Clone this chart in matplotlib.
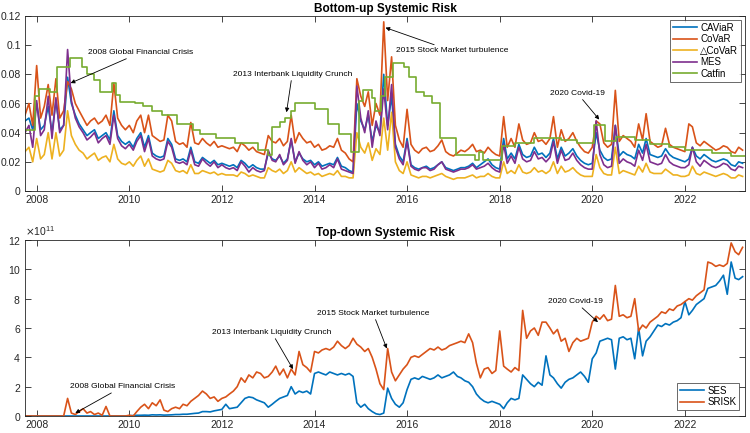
import numpy as np
import pandas as pd
import matplotlib
matplotlib.use("Agg")
import matplotlib.pyplot as plt
import matplotlib.dates as mdates
from matplotlib.ticker import FuncFormatter, ScalarFormatter, MultipleLocator

plt.rcParams['font.family'] = ['Liberation Sans', 'DejaVu Sans']

# ---------------- data (monthly, Oct 2007 - Apr 2023) ----------------
months = pd.date_range('2007-10-01', '2023-04-01', freq='MS')

caviar = [
    0.048, 0.050, 0.042,
    0.060, 0.042, 0.045, 0.058, 0.040, 0.062, 0.042, 0.045, 0.078, 0.060, 0.052, 0.046,
    0.042, 0.038, 0.040, 0.042, 0.036, 0.038, 0.040, 0.035, 0.055, 0.038, 0.034, 0.032,
    0.034, 0.030, 0.036, 0.040, 0.030, 0.038, 0.026, 0.024, 0.023, 0.024, 0.036, 0.032,
    0.022, 0.021, 0.022, 0.020, 0.030, 0.020, 0.019, 0.023, 0.021, 0.019, 0.021, 0.018,
    0.019, 0.018, 0.017, 0.018, 0.016, 0.021, 0.019, 0.016, 0.018, 0.016, 0.015, 0.015,
    0.026, 0.022, 0.021, 0.024, 0.019, 0.022, 0.035, 0.020, 0.026, 0.022, 0.020, 0.021,
    0.018, 0.020, 0.017, 0.018, 0.019, 0.018, 0.023, 0.017, 0.016, 0.014, 0.013, 0.060,
    0.048, 0.042, 0.052, 0.034, 0.045, 0.040, 0.080, 0.045, 0.065, 0.032, 0.024, 0.020,
    0.036, 0.018, 0.016, 0.015, 0.016, 0.017, 0.015, 0.016, 0.018, 0.020, 0.016, 0.015,
    0.014, 0.015, 0.016, 0.016, 0.017, 0.019, 0.016, 0.018, 0.020, 0.022, 0.018, 0.016,
    0.015, 0.036, 0.022, 0.026, 0.022, 0.032, 0.025, 0.023, 0.024, 0.030, 0.025, 0.026,
    0.023, 0.026, 0.036, 0.022, 0.030, 0.024, 0.026, 0.029, 0.024, 0.021, 0.019, 0.018,
    0.019, 0.040, 0.028, 0.023, 0.021, 0.022, 0.045, 0.024, 0.027, 0.025, 0.024, 0.022,
    0.032, 0.026, 0.036, 0.025, 0.024, 0.023, 0.024, 0.029, 0.025, 0.023, 0.022, 0.021,
    0.020, 0.022, 0.030, 0.024, 0.022, 0.025, 0.023, 0.021, 0.020, 0.021, 0.022, 0.021,
    0.018, 0.017, 0.020, 0.019,
]

covar = [
    0.052, 0.060, 0.045,
    0.086, 0.050, 0.058, 0.073, 0.052, 0.077, 0.050, 0.055, 0.075, 0.070, 0.060, 0.055,
    0.050, 0.045, 0.048, 0.050, 0.046, 0.048, 0.052, 0.045, 0.074, 0.050, 0.045, 0.042,
    0.045, 0.040, 0.048, 0.052, 0.040, 0.052, 0.038, 0.036, 0.034, 0.035, 0.052, 0.048,
    0.034, 0.032, 0.033, 0.030, 0.047, 0.033, 0.032, 0.036, 0.033, 0.031, 0.034, 0.030,
    0.031, 0.030, 0.029, 0.030, 0.027, 0.033, 0.031, 0.028, 0.030, 0.027, 0.026, 0.025,
    0.038, 0.034, 0.033, 0.036, 0.031, 0.034, 0.052, 0.033, 0.040, 0.036, 0.033, 0.034,
    0.030, 0.032, 0.028, 0.029, 0.031, 0.030, 0.036, 0.028, 0.026, 0.022, 0.020, 0.077,
    0.065, 0.058, 0.068, 0.045, 0.060, 0.052, 0.116, 0.062, 0.092, 0.045, 0.035, 0.030,
    0.056, 0.032, 0.028, 0.026, 0.029, 0.030, 0.027, 0.028, 0.031, 0.035, 0.027, 0.025,
    0.024, 0.026, 0.028, 0.027, 0.029, 0.032, 0.027, 0.028, 0.026, 0.030, 0.027, 0.025,
    0.024, 0.051, 0.030, 0.036, 0.030, 0.046, 0.035, 0.032, 0.033, 0.040, 0.034, 0.035,
    0.032, 0.036, 0.051, 0.030, 0.042, 0.034, 0.036, 0.040, 0.034, 0.030, 0.027, 0.026,
    0.030, 0.048, 0.046, 0.033, 0.030, 0.032, 0.069, 0.034, 0.038, 0.036, 0.034, 0.030,
    0.046, 0.035, 0.053, 0.034, 0.032, 0.030, 0.031, 0.043, 0.032, 0.030, 0.029, 0.028,
    0.027, 0.046, 0.044, 0.033, 0.031, 0.034, 0.032, 0.030, 0.028, 0.029, 0.031, 0.030,
    0.027, 0.026, 0.030, 0.028,
]

dcovar = [
    0.027, 0.030, 0.020,
    0.036, 0.022, 0.025, 0.040, 0.022, 0.040, 0.024, 0.028, 0.055, 0.038, 0.032, 0.028,
    0.026, 0.022, 0.024, 0.026, 0.021, 0.023, 0.024, 0.020, 0.032, 0.022, 0.019, 0.018,
    0.020, 0.017, 0.021, 0.024, 0.017, 0.022, 0.015, 0.014, 0.013, 0.014, 0.021, 0.019,
    0.014, 0.013, 0.014, 0.012, 0.018, 0.012, 0.012, 0.014, 0.013, 0.012, 0.013, 0.011,
    0.012, 0.011, 0.011, 0.011, 0.010, 0.013, 0.012, 0.010, 0.011, 0.010, 0.009, 0.009,
    0.016, 0.014, 0.013, 0.015, 0.012, 0.014, 0.020, 0.013, 0.016, 0.014, 0.012, 0.013,
    0.011, 0.012, 0.010, 0.011, 0.012, 0.011, 0.014, 0.010, 0.010, 0.009, 0.009, 0.040,
    0.030, 0.026, 0.033, 0.021, 0.029, 0.025, 0.050, 0.028, 0.054, 0.020, 0.014, 0.012,
    0.020, 0.011, 0.010, 0.009, 0.010, 0.010, 0.009, 0.010, 0.011, 0.012, 0.010, 0.009,
    0.008, 0.009, 0.009, 0.009, 0.010, 0.011, 0.009, 0.010, 0.010, 0.012, 0.010, 0.009,
    0.009, 0.020, 0.012, 0.014, 0.012, 0.018, 0.013, 0.012, 0.013, 0.016, 0.013, 0.014,
    0.012, 0.014, 0.020, 0.012, 0.017, 0.013, 0.014, 0.016, 0.013, 0.011, 0.010, 0.010,
    0.010, 0.025, 0.016, 0.012, 0.011, 0.011, 0.030, 0.012, 0.014, 0.013, 0.012, 0.011,
    0.017, 0.013, 0.019, 0.013, 0.012, 0.012, 0.012, 0.015, 0.013, 0.011, 0.011, 0.010,
    0.010, 0.011, 0.017, 0.012, 0.011, 0.013, 0.012, 0.011, 0.010, 0.011, 0.012, 0.011,
    0.009, 0.009, 0.011, 0.010,
]

mes = [
    0.040, 0.045, 0.030,
    0.062, 0.038, 0.042, 0.065, 0.036, 0.064, 0.040, 0.045, 0.097, 0.062, 0.050, 0.044,
    0.040, 0.035, 0.037, 0.040, 0.033, 0.036, 0.038, 0.032, 0.052, 0.036, 0.031, 0.029,
    0.032, 0.028, 0.034, 0.038, 0.027, 0.036, 0.024, 0.022, 0.021, 0.022, 0.034, 0.030,
    0.020, 0.019, 0.020, 0.018, 0.028, 0.018, 0.017, 0.022, 0.019, 0.017, 0.020, 0.016,
    0.018, 0.016, 0.015, 0.016, 0.014, 0.020, 0.017, 0.013, 0.016, 0.014, 0.013, 0.014,
    0.028, 0.021, 0.020, 0.025, 0.018, 0.021, 0.036, 0.019, 0.027, 0.021, 0.018, 0.020,
    0.016, 0.019, 0.015, 0.016, 0.018, 0.016, 0.022, 0.015, 0.014, 0.013, 0.012, 0.072,
    0.050, 0.040, 0.055, 0.030, 0.048, 0.038, 0.070, 0.042, 0.073, 0.030, 0.022, 0.018,
    0.034, 0.017, 0.015, 0.014, 0.016, 0.016, 0.014, 0.015, 0.018, 0.020, 0.015, 0.014,
    0.013, 0.014, 0.015, 0.015, 0.016, 0.018, 0.015, 0.016, 0.017, 0.019, 0.016, 0.014,
    0.013, 0.032, 0.019, 0.024, 0.019, 0.030, 0.022, 0.020, 0.021, 0.027, 0.022, 0.023,
    0.020, 0.023, 0.034, 0.019, 0.028, 0.021, 0.022, 0.026, 0.021, 0.018, 0.016, 0.015,
    0.015, 0.048, 0.025, 0.018, 0.016, 0.017, 0.045, 0.019, 0.022, 0.020, 0.019, 0.017,
    0.028, 0.021, 0.032, 0.020, 0.019, 0.018, 0.019, 0.025, 0.020, 0.018, 0.017, 0.016,
    0.016, 0.018, 0.030, 0.020, 0.017, 0.021, 0.019, 0.017, 0.016, 0.017, 0.019, 0.018,
    0.015, 0.014, 0.017, 0.016,
]

catfin_dates = [
    '2007-10-01', '2007-12-20', '2008-01-20', '2008-03-01', '2008-04-15', '2008-06-10',
    '2008-09-20', '2008-12-20', '2009-02-01', '2009-04-01', '2009-05-15', '2009-08-20',
    '2009-09-20', '2009-10-20', '2010-02-15', '2010-04-15', '2010-07-01', '2010-09-15',
    '2011-01-15', '2011-05-15', '2011-07-15', '2011-11-15', '2012-04-15', '2012-10-15',
    '2013-01-01', '2013-02-01', '2013-04-01', '2013-05-15', '2013-07-01', '2013-08-01',
    '2014-01-01', '2014-04-15', '2014-07-15', '2014-10-15', '2014-12-20', '2015-01-20',
    '2015-04-01', '2015-04-20', '2015-06-10', '2015-07-10', '2015-09-10', '2015-12-10',
    '2016-01-20', '2016-03-10', '2016-05-10', '2016-07-15', '2016-09-15', '2017-01-20',
    '2017-06-20', '2017-07-20', '2017-08-20', '2018-01-20', '2018-05-01', '2018-10-01',
    '2019-05-01', '2019-09-01', '2020-01-15', '2020-04-10', '2020-07-10', '2020-12-01',
    '2021-04-01', '2021-09-01', '2022-01-01', '2022-08-01', '2023-01-01', '2023-04-20',
]
catfin_vals = [
    0.042, 0.065, 0.070, 0.070, 0.068, 0.085,
    0.091, 0.085, 0.080, 0.076, 0.068, 0.074,
    0.066, 0.061, 0.060, 0.058, 0.055, 0.052,
    0.046, 0.042, 0.039, 0.036, 0.033, 0.028,
    0.025, 0.044, 0.047, 0.050, 0.055, 0.060,
    0.056, 0.046, 0.039, 0.027, 0.062, 0.069,
    0.064, 0.055, 0.065, 0.078, 0.088, 0.085,
    0.078, 0.068, 0.065, 0.060, 0.036, 0.025,
    0.021, 0.027, 0.021, 0.031, 0.033, 0.036,
    0.035, 0.033, 0.045, 0.034, 0.037, 0.035,
    0.032, 0.030, 0.028, 0.026, 0.024, 0.024,
]

# bottom panel, units of 1e11
ses = [
    0, 0, 0,
    0, 0, 0, 0, 0, 0, 0, 0, 0, 0, 0, 0,
    0, 0, 0, 0, 0, 0, 0, 0, 0, 0, 0, 0,
    0.02, 0.03, 0.05, 0.05, 0.06, 0.05, 0.08, 0.07, 0.08, 0.06, 0.07, 0.08,
    0.10, 0.10, 0.12, 0.12, 0.15, 0.18, 0.20, 0.30, 0.30, 0.28, 0.35, 0.40,
    0.45, 0.80, 0.50, 0.55, 0.60, 0.90, 1.20, 1.30, 1.25, 1.10, 1.00, 0.90,
    0.60, 0.80, 1.00, 1.20, 1.30, 1.40, 2.00, 1.50, 1.70, 1.60, 1.70, 1.50,
    2.90, 3.00, 2.90, 2.80, 3.00, 2.90, 2.80, 2.90, 2.80, 2.90, 2.70, 0.90,
    0.60, 0.80, 0.50, 0.30, 0.15, 0.10, 0.20, 1.90, 1.20, 0.80, 0.60, 0.90,
    1.80, 2.50, 2.60, 2.50, 2.70, 2.60, 2.50, 2.60, 2.80, 2.60, 2.70, 2.80,
    3.00, 2.70, 2.60, 2.40, 2.30, 2.00, 1.50, 1.20, 1.00, 0.90, 1.00, 0.90,
    0.80, 0.50, 0.90, 1.20, 1.10, 1.20, 2.80, 2.50, 2.20, 2.00, 2.30, 2.10,
    4.10, 2.80, 2.60, 2.20, 1.90, 2.30, 2.50, 2.60, 2.80, 3.00, 2.70, 2.30,
    3.90, 4.30, 5.10, 5.20, 5.30, 5.20, 3.20, 5.30, 5.40, 5.20, 5.30, 3.90,
    6.00, 4.10, 5.10, 5.40, 5.80, 6.20, 6.10, 6.30, 6.20, 6.40, 6.50, 6.70,
    7.80, 6.90, 7.20, 7.60, 7.80, 8.00, 8.70, 8.80, 8.90, 9.20, 9.60, 8.30,
    10.50, 9.40, 9.30, 9.50,
]

srisk = [
    0, 0, 0,
    0, 0, 0, 0, 0, 0, 0, 0, 1.20, 0.20, 0.10, 0.30,
    0.50, 0.20, 0.30, 0.10, 0.20, 0.05, 0.65, 0, 0, 0, 0, 0,
    0.05, 0, 0.30, 0.60, 0.80, 0.50, 0.90, 0.70, 1.10, 0.40, 0.30, 0.50,
    0.60, 0.50, 0.80, 0.70, 1.00, 1.20, 1.40, 1.70, 1.50, 1.20, 1.30, 1.00,
    1.20, 1.30, 1.50, 1.70, 2.00, 2.60, 2.30, 2.80, 2.60, 3.00, 2.90, 2.60,
    2.70, 3.00, 3.40, 2.80, 3.20, 2.60, 3.20, 2.80, 4.40, 3.50, 3.30, 3.00,
    4.40, 4.30, 4.50, 4.60, 4.50, 4.70, 5.10, 4.80, 4.60, 4.80, 5.30, 4.90,
    4.70, 4.40, 4.60, 4.00, 3.20, 2.20, 1.80, 4.60, 3.00, 2.40, 2.80, 3.20,
    3.50, 4.00, 4.10, 4.00, 4.20, 4.40, 4.60, 4.50, 4.70, 4.50, 4.60, 4.80,
    4.90, 5.00, 5.10, 5.00, 5.60, 5.00, 3.60, 2.60, 3.20, 3.30, 2.90, 3.10,
    5.80, 3.40, 3.20, 3.00, 3.30, 3.10, 7.20, 5.30, 5.80, 6.00, 5.50, 6.40,
    6.40, 6.00, 5.60, 5.90, 5.10, 5.30, 4.40, 5.00, 5.30, 5.10, 5.20, 5.30,
    6.40, 6.80, 6.60, 6.90, 6.50, 6.60, 8.90, 6.80, 6.90, 6.70, 6.80, 8.00,
    5.80, 6.20, 6.00, 6.40, 6.60, 6.80, 7.10, 7.00, 7.30, 7.20, 7.50, 7.60,
    7.80, 8.00, 7.90, 8.20, 8.40, 8.60, 10.50, 10.40, 10.20, 10.30, 10.20, 10.40,
    11.80, 11.20, 11.00, 11.50,
]

top_series = ['CAViaR', 'CoVaR', '\u25b3CoVaR', 'MES']
bottom_series = ['SES', 'SRISK']

# ---------------- styling ----------------
C_BLUE = '#0072BD'
C_ORANGE = '#D95319'
C_YELLOW = '#EDB120'
C_PURPLE = '#7E2F8E'
C_GREEN = '#77AC30'
AXC = '#262626'

fig = plt.figure(figsize=(7.5, 4.33), dpi=100)
ax1 = fig.add_axes([25 / 750, 1 - 191 / 433, 720 / 750, 175 / 433])
ax2 = fig.add_axes([25 / 750, 1 - 416 / 433, 720 / 750, 176 / 433])

lw = 1.2
ax1.plot(months, caviar, color=C_BLUE, lw=lw, label=top_series[0])
ax1.plot(months, covar, color=C_ORANGE, lw=lw, label=top_series[1])
ax1.plot(months, dcovar, color=C_YELLOW, lw=lw, label=top_series[2])
ax1.plot(months, mes, color=C_PURPLE, lw=lw, label=top_series[3])
ax1.plot(pd.to_datetime(catfin_dates), catfin_vals, color=C_GREEN, lw=lw,
         drawstyle='steps-post', label='Catfin')

ax2.plot(months, np.array(ses) * 1e11, color=C_BLUE, lw=lw, label=bottom_series[0])
ax2.plot(months, np.array(srisk) * 1e11, color=C_ORANGE, lw=lw, label=bottom_series[1])

xmin, xmax = pd.Timestamp('2007-10-01'), pd.Timestamp('2023-04-20')
for ax in (ax1, ax2):
    ax.set_xlim(xmin, xmax)
    ax.xaxis.set_major_locator(mdates.YearLocator(base=2))
    ax.xaxis.set_major_formatter(mdates.DateFormatter('%Y'))
    ax.tick_params(direction='in', top=True, right=True, length=4, width=0.6,
                   labelsize=7.5, colors=AXC, pad=3)
    for s in ax.spines.values():
        s.set_linewidth(0.6)
        s.set_color(AXC)

ax1.set_ylim(0, 0.12)
ax1.yaxis.set_major_locator(MultipleLocator(0.02))
ax1.yaxis.set_major_formatter(FuncFormatter(lambda v, p: f'{v:g}'))
ax1.set_title('Bottom-up Systemic Risk', fontsize=8.5, fontweight='bold', pad=3, color='black')

ax2.set_ylim(0, 12e11)
ax2.yaxis.set_major_locator(MultipleLocator(2e11))
ax2.ticklabel_format(axis='y', style='sci', scilimits=(11, 11), useMathText=True)
ax2.yaxis.get_offset_text().set_fontsize(7.5)
ax2.yaxis.get_offset_text().set_color(AXC)
ax2.set_title('Top-down Systemic Risk', fontsize=8.5, fontweight='bold', pad=3, color='black')

leg1 = ax1.legend(loc='upper right', fontsize=7, frameon=True, fancybox=False,
                  handlelength=2.5, borderpad=0.3, labelspacing=0.15,
                  handletextpad=0.3, borderaxespad=0.4)
leg1.get_frame().set_edgecolor(AXC)
leg1.get_frame().set_linewidth(0.6)
leg2 = ax2.legend(loc='lower right', fontsize=7, frameon=True, fancybox=False,
                  handlelength=2.5, borderpad=0.3, labelspacing=0.15,
                  handletextpad=0.3, borderaxespad=0.6)
leg2.get_frame().set_edgecolor(AXC)
leg2.get_frame().set_linewidth(0.6)

arrow = dict(arrowstyle='-|>', color='black', lw=0.6, mutation_scale=6,
             shrinkA=0, shrinkB=0)
afs = 6


def D(s):
    return mdates.date2num(pd.Timestamp(s))


# top annotations
ax1.annotate('2008 Global Financial Crisis', xy=(D('2008-09-25'), 0.074),
             xytext=(D('2009-02-10'), 0.095), fontsize=afs, ha='left', va='center',
             arrowprops=arrow)
ax1.annotate('2013 Interbank Liquidity Crunch', xy=(D('2013-05-25'), 0.054),
             xytext=(D('2012-03-25'), 0.080), fontsize=afs, ha='left', va='center',
             arrowprops=arrow)
ax1.annotate('2015 Stock Market turbulence', xy=(D('2015-07-15'), 0.112),
             xytext=(D('2015-10-05'), 0.096), fontsize=afs, ha='left', va='center',
             arrowprops=arrow)
ax1.annotate('2020 Covid-19', xy=(D('2020-02-25'), 0.049),
             xytext=(D('2019-02-01'), 0.067), fontsize=afs, ha='left', va='center',
             arrowprops=arrow)

# bottom annotations
ax2.annotate('2008 Global Financial Crisis', xy=(D('2008-11-01'), 0.2e11),
             xytext=(D('2008-09-20'), 2.0e11), fontsize=afs, ha='left', va='center',
             arrowprops=arrow)
ax2.annotate('2013 Interbank Liquidity Crunch', xy=(D('2013-07-15'), 3.2e11),
             xytext=(D('2011-10-15'), 5.7e11), fontsize=afs, ha='left', va='center',
             arrowprops=arrow)
ax2.annotate('2015 Stock Market turbulence', xy=(D('2015-07-25'), 4.6e11),
             xytext=(D('2014-01-20'), 7.0e11), fontsize=afs, ha='left', va='center',
             arrowprops=arrow)
ax2.annotate('2020 Covid-19', xy=(D('2020-02-15'), 6.4e11),
             xytext=(D('2019-01-15'), 7.8e11), fontsize=afs, ha='left', va='center',
             arrowprops=arrow)

fig.savefig('out.png', dpi=100)
